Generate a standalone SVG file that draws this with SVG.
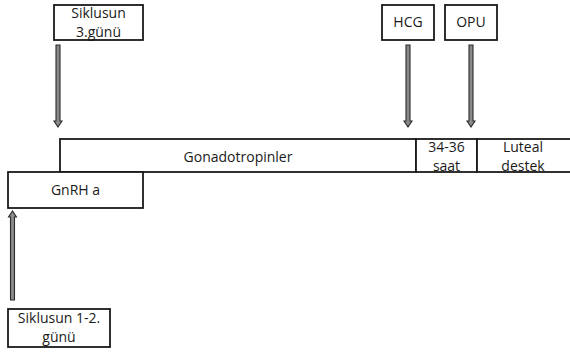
<svg xmlns="http://www.w3.org/2000/svg" width="570" height="354" viewBox="0 0 570 354">
<style>
.box{fill:#fff;stroke:#1a1a1a;stroke-width:1.8}
.t{font-family:"Open Sans","Liberation Sans",sans-serif;font-size:14px;fill:#1a1a1a;text-anchor:middle}
.arr{fill:#8a8a8a;stroke:#2a2a2a;stroke-width:1.1}
</style>
<rect width="570" height="354" fill="#fff"/>
<g id="connectors">
<polygon class="arr" points="56,45 60,45 60,121 62,121 58,127 54,121 56,121"/>
<polygon class="arr" points="406,45 410,45 410,121 412,121 408,127 404,121 406,121"/>
<polygon class="arr" points="469,45 473,45 473,121 475,121 471,127 467,121 469,121"/>
<polygon class="arr" points="10.5,300 14.5,300 14.5,217 16.5,217 12.5,211 8.5,217 10.5,217"/>
</g>
<g id="siklusun3">
<rect class="box" x="54" y="5" width="89" height="35"/>
<text class="t" x="98.5" y="18">Siklusun</text>
<text class="t" x="98.5" y="37">3.günü</text>
</g>
<g id="hcg">
<rect class="box" x="382" y="5" width="52" height="35"/>
<text class="t" x="408" y="27">HCG</text>
</g>
<g id="opu">
<rect class="box" x="445" y="5" width="52" height="35"/>
<text class="t" x="471" y="27">OPU</text>
</g>
<g id="gonadotropinler">
<rect class="box" x="60" y="139" width="356" height="33"/>
<text class="t" x="238" y="162">Gonadotropinler</text>
</g>
<g id="saat">
<rect class="box" x="416" y="139" width="61" height="33"/>
<text class="t" x="446.5" y="152">34-36</text>
<text class="t" x="446.5" y="171">saat</text>
</g>
<g id="luteal">
<rect class="box" x="477" y="139" width="100" height="33"/>
<text class="t" x="523" y="152">Luteal</text>
<text class="t" x="523" y="171">destek</text>
</g>
<g id="gnrh">
<rect class="box" x="8" y="172" width="135" height="36"/>
<text class="t" x="75.5" y="195">GnRH a</text>
</g>
<g id="siklusun12">
<rect class="box" x="8" y="309" width="102" height="38"/>
<text class="t" x="59" y="323">Siklusun 1-2.</text>
<text class="t" x="59" y="342">günü</text>
</g>
</svg>
